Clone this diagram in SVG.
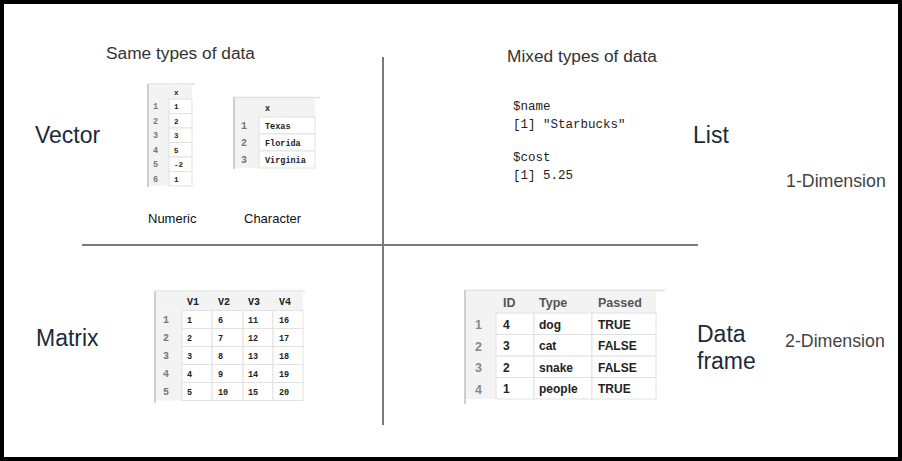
<svg xmlns="http://www.w3.org/2000/svg" width="902" height="461" viewBox="0 0 902 461">
<style>
.title{font-family:"Liberation Sans",Arial,sans-serif;font-size:23px;fill:#1c2b39}
.sub{font-family:"Liberation Sans",Arial,sans-serif;font-size:17.3px;fill:#333}
.dim{font-family:"Liberation Sans",Arial,sans-serif;font-size:17.8px;fill:#444}
.cap{font-family:"Liberation Sans",Arial,sans-serif;font-size:13px;fill:#111}
.code{font-family:"Liberation Mono","DejaVu Sans Mono",monospace;font-size:12.5px;fill:#222}
.hdr{fill:#f3f3f3}
.cell{fill:#fff;stroke:#e2e2e2;stroke-width:1}
.bar{stroke:#cfcfcf;stroke-width:2}
.top{stroke:#e0e0e0;stroke-width:1.5}
.m{font-family:"Liberation Mono","DejaVu Sans Mono",monospace;font-weight:bold;fill:#222}
.mi{font-family:"Liberation Mono","DejaVu Sans Mono",monospace;font-weight:bold;fill:#777}
.df{font-family:"Liberation Sans",Arial,sans-serif;font-weight:bold;font-size:12px;fill:#222}
.dfi{font-family:"Liberation Sans",Arial,sans-serif;font-weight:bold;font-size:12.5px;fill:#888}
.dfh{font-family:"Liberation Sans",Arial,sans-serif;font-weight:bold;font-size:12.5px;fill:#555}
.axis{stroke:#7a7a7a;stroke-width:2}
</style>
<rect x="0" y="0" width="902" height="461" fill="#fff"/>
<rect x="2" y="2" width="898" height="457" fill="none" stroke="#000" stroke-width="4"/>

<g id="connectors">
<line class="axis" x1="82" y1="245" x2="698" y2="245"/>
<line class="axis" x1="383" y1="57" x2="383" y2="425"/>
</g>

<g id="labels">
<text class="sub" x="106" y="59">Same types of data</text>
<text class="sub" x="507" y="62">Mixed types of data</text>
<text class="dim" x="786" y="187">1-Dimension</text>
<text class="dim" x="785" y="347">2-Dimension</text>
</g>

<g id="vector">
<text class="title" x="35" y="143">Vector</text>
<text class="cap" x="148" y="223">Numeric</text>
<text class="cap" x="244" y="223">Character</text>
</g>

<g id="vector-numeric-table">
<line class="top" x1="148" y1="84" x2="195" y2="84"/>
<rect class="hdr" x="149" y="84.5" width="43" height="14.5"/>
<rect class="hdr" x="149" y="99" width="20" height="87"/>
<rect class="cell" x="169" y="99" width="23" height="14.5"/>
<rect class="cell" x="169" y="113.5" width="23" height="14.5"/>
<rect class="cell" x="169" y="128" width="23" height="14.5"/>
<rect class="cell" x="169" y="142.5" width="23" height="14.5"/>
<rect class="cell" x="169" y="157" width="23" height="14.5"/>
<rect class="cell" x="169" y="171.5" width="23" height="14.5"/>
<line class="bar" x1="148" y1="84" x2="148" y2="187"/>
<g font-size="7.5">
<text class="m" x="174" y="95">x</text>
<text class="mi" x="153" y="109" font-size="8.5">1</text><text class="m" x="174" y="109">1</text>
<text class="mi" x="153" y="123.5" font-size="8.5">2</text><text class="m" x="174" y="123.5">2</text>
<text class="mi" x="153" y="138" font-size="8.5">3</text><text class="m" x="174" y="138">3</text>
<text class="mi" x="153" y="152.5" font-size="8.5">4</text><text class="m" x="174" y="152.5">5</text>
<text class="mi" x="153" y="167" font-size="8.5">5</text><text class="m" x="174" y="167">-2</text>
<text class="mi" x="153" y="181.5" font-size="8.5">6</text><text class="m" x="174" y="181.5">1</text>
</g>
</g>

<g id="vector-character-table">
<line class="top" x1="234" y1="97.5" x2="320" y2="97.5"/>
<rect class="hdr" x="235" y="98" width="80" height="19"/>
<rect class="hdr" x="235" y="117" width="24" height="51"/>
<rect class="cell" x="259" y="117" width="56" height="17"/>
<rect class="cell" x="259" y="134" width="56" height="17"/>
<rect class="cell" x="259" y="151" width="56" height="17"/>
<line class="bar" x1="234" y1="97" x2="234" y2="169"/>
<g font-size="8.5">
<text class="m" x="265" y="111">x</text>
<text class="mi" x="241" y="128.5" font-size="10">1</text><text class="m" x="265" y="128.5">Texas</text>
<text class="mi" x="241" y="145.5" font-size="10">2</text><text class="m" x="265" y="145.5">Florida</text>
<text class="mi" x="241" y="162.5" font-size="10">3</text><text class="m" x="265" y="162.5">Virginia</text>
</g>
</g>

<g id="list">
<text class="title" x="693" y="143">List</text>
<text class="code" x="513" y="110">$name</text>
<text class="code" x="513" y="128">[1] "Starbucks"</text>
<text class="code" x="513" y="161">$cost</text>
<text class="code" x="513" y="179">[1] 5.25</text>
</g>

<g id="matrix">
<text class="title" x="36" y="346">Matrix</text>
</g>

<g id="matrix-table">
<line class="top" x1="155" y1="291" x2="305" y2="291"/>
<rect class="hdr" x="156" y="291.5" width="147" height="19"/>
<rect class="hdr" x="156" y="310.5" width="26" height="90"/>
<g>
<rect class="cell" x="182" y="310.5" width="30" height="18"/><rect class="cell" x="212" y="310.5" width="31" height="18"/><rect class="cell" x="243" y="310.5" width="30" height="18"/><rect class="cell" x="273" y="310.5" width="30" height="18"/>
<rect class="cell" x="182" y="328.5" width="30" height="18"/><rect class="cell" x="212" y="328.5" width="31" height="18"/><rect class="cell" x="243" y="328.5" width="30" height="18"/><rect class="cell" x="273" y="328.5" width="30" height="18"/>
<rect class="cell" x="182" y="346.5" width="30" height="18"/><rect class="cell" x="212" y="346.5" width="31" height="18"/><rect class="cell" x="243" y="346.5" width="30" height="18"/><rect class="cell" x="273" y="346.5" width="30" height="18"/>
<rect class="cell" x="182" y="364.5" width="30" height="18"/><rect class="cell" x="212" y="364.5" width="31" height="18"/><rect class="cell" x="243" y="364.5" width="30" height="18"/><rect class="cell" x="273" y="364.5" width="30" height="18"/>
<rect class="cell" x="182" y="382.5" width="30" height="18"/><rect class="cell" x="212" y="382.5" width="31" height="18"/><rect class="cell" x="243" y="382.5" width="30" height="18"/><rect class="cell" x="273" y="382.5" width="30" height="18"/>
</g>
<line class="bar" x1="155" y1="291" x2="155" y2="403"/>
<g font-size="10">
<text class="m" x="187" y="305">V1</text><text class="m" x="218" y="305">V2</text><text class="m" x="248" y="305">V3</text><text class="m" x="279" y="305">V4</text>
</g>
<g font-size="8.5">
<text class="mi" x="163" y="323" font-size="10">1</text><text class="m" x="187" y="323">1</text><text class="m" x="218" y="323">6</text><text class="m" x="248" y="323">11</text><text class="m" x="279" y="323">16</text>
<text class="mi" x="163" y="341" font-size="10">2</text><text class="m" x="187" y="341">2</text><text class="m" x="218" y="341">7</text><text class="m" x="248" y="341">12</text><text class="m" x="279" y="341">17</text>
<text class="mi" x="163" y="359" font-size="10">3</text><text class="m" x="187" y="359">3</text><text class="m" x="218" y="359">8</text><text class="m" x="248" y="359">13</text><text class="m" x="279" y="359">18</text>
<text class="mi" x="163" y="377" font-size="10">4</text><text class="m" x="187" y="377">4</text><text class="m" x="218" y="377">9</text><text class="m" x="248" y="377">14</text><text class="m" x="279" y="377">19</text>
<text class="mi" x="163" y="395" font-size="10">5</text><text class="m" x="187" y="395">5</text><text class="m" x="218" y="395">10</text><text class="m" x="248" y="395">15</text><text class="m" x="279" y="395">20</text>
</g>
</g>

<g id="dataframe">
<text class="title" x="697" y="342">Data</text>
<text class="title" x="697" y="369">frame</text>
</g>

<g id="dataframe-table">
<line class="top" x1="465" y1="290.5" x2="665" y2="290.5"/>
<rect class="hdr" x="466" y="291" width="190" height="22"/>
<rect class="hdr" x="466" y="313" width="30" height="86"/>
<g>
<rect class="cell" x="496" y="313" width="38" height="21.5"/><rect class="cell" x="534" y="313" width="58" height="21.5"/><rect class="cell" x="592" y="313" width="64" height="21.5"/>
<rect class="cell" x="496" y="334.5" width="38" height="21.5"/><rect class="cell" x="534" y="334.5" width="58" height="21.5"/><rect class="cell" x="592" y="334.5" width="64" height="21.5"/>
<rect class="cell" x="496" y="356" width="38" height="21.5"/><rect class="cell" x="534" y="356" width="58" height="21.5"/><rect class="cell" x="592" y="356" width="64" height="21.5"/>
<rect class="cell" x="496" y="377.5" width="38" height="21.5"/><rect class="cell" x="534" y="377.5" width="58" height="21.5"/><rect class="cell" x="592" y="377.5" width="64" height="21.5"/>
</g>
<line class="bar" x1="465" y1="290" x2="465" y2="404"/>
<text class="dfh" x="503" y="307">ID</text><text class="dfh" x="539" y="307">Type</text><text class="dfh" x="598" y="307">Passed</text>
<text class="dfi" x="475" y="329">1</text><text class="df" x="503" y="328.5">4</text><text class="df" x="539" y="328.5">dog</text><text class="df" x="598" y="328.5">TRUE</text>
<text class="dfi" x="475" y="350.5">2</text><text class="df" x="503" y="350">3</text><text class="df" x="539" y="350">cat</text><text class="df" x="598" y="350">FALSE</text>
<text class="dfi" x="475" y="372">3</text><text class="df" x="503" y="371.5">2</text><text class="df" x="539" y="371.5">snake</text><text class="df" x="598" y="371.5">FALSE</text>
<text class="dfi" x="475" y="393.5">4</text><text class="df" x="503" y="393">1</text><text class="df" x="539" y="393">people</text><text class="df" x="598" y="393">TRUE</text>
</g>
</svg>
